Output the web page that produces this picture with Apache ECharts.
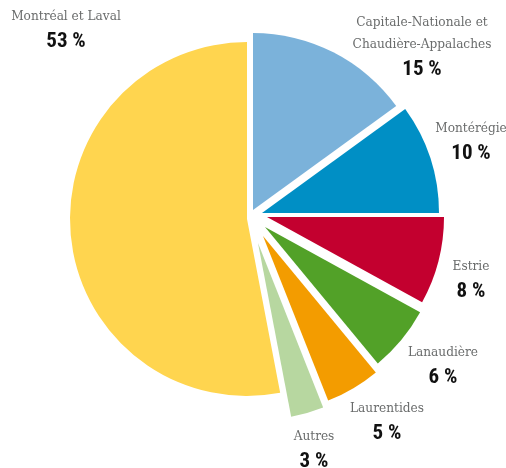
<!DOCTYPE html>
<html>
<head>
<meta charset="utf-8">
<script src="https://cdn.jsdelivr.net/npm/echarts@6/dist/echarts.min.js"></script>
<style>
html,body{margin:0;padding:0;background:#fff;}
#chart{width:506px;height:468px;}
</style>
</head>
<body>
<div id="chart"></div>
<script>
// Data
const categories = ['Capitale-Nationale et\nChaudière-Appalaches', 'Montérégie', 'Estrie', 'Lanaudière', 'Laurentides', 'Autres', 'Montréal et Laval'];
const values = [15, 10, 8, 6, 5, 3, 53];

// Styles / layout
const colors = ['#7BB2DA', '#008FC5', '#C3002F', '#52A128', '#F39C00', '#B7D7A0', '#FFD54F'];
const sliceCenters = [[253, 210], [262, 213], [267, 217], [265, 227], [263, 236], [258, 243], [247, 219]];
const labelPos = [[422, 48], [471, 143], [471, 281], [443, 367], [387, 423], [314, 451], [66, 31]];
const radius = 177;

const chart = echarts.init(document.getElementById('chart'), null, {renderer: 'canvas'});

const series = categories.map((cat, i) => ({
  type: 'pie',
  radius: radius,
  center: sliceCenters[i],
  startAngle: 90,
  clockwise: true,
  silent: true,
  animation: false,
  avoidLabelOverlap: false,
  emphasis: {disabled: true},
  labelLine: {show: false},
  label: {
    show: true,
    position: 'outside',
    formatter: (p) => p.name.split('\n').map(s => '{n|' + s + '}').join('\n') + '\n{v|' + p.value + ' %}',
    rich: {
      n: {fontFamily: 'DejaVu Serif Condensed, DejaVu Serif', fontSize: 13.5, color: '#6A6C6C', lineHeight: 22, align: 'center'},
      v: {fontFamily: 'Roboto Condensed, Liberation Sans Narrow, DejaVu Sans Condensed, Roboto', fontSize: 21, fontWeight: 'bold', color: '#111111', lineHeight: 30, align: 'center'}
    }
  },
  labelLayout: (params) => params.dataIndex === i
    ? {x: labelPos[i][0], y: labelPos[i][1], align: 'center', verticalAlign: 'middle'}
    : {},
  data: categories.map((name, j) => ({
    name: name,
    value: values[j],
    itemStyle: {color: j === i ? colors[j] : 'rgba(0,0,0,0)', borderWidth: 0},
    label: {show: j === i}
  }))
}));

chart.setOption({
  backgroundColor: '#ffffff',
  animation: false,
  series: series
});
</script>
</body>
</html>
